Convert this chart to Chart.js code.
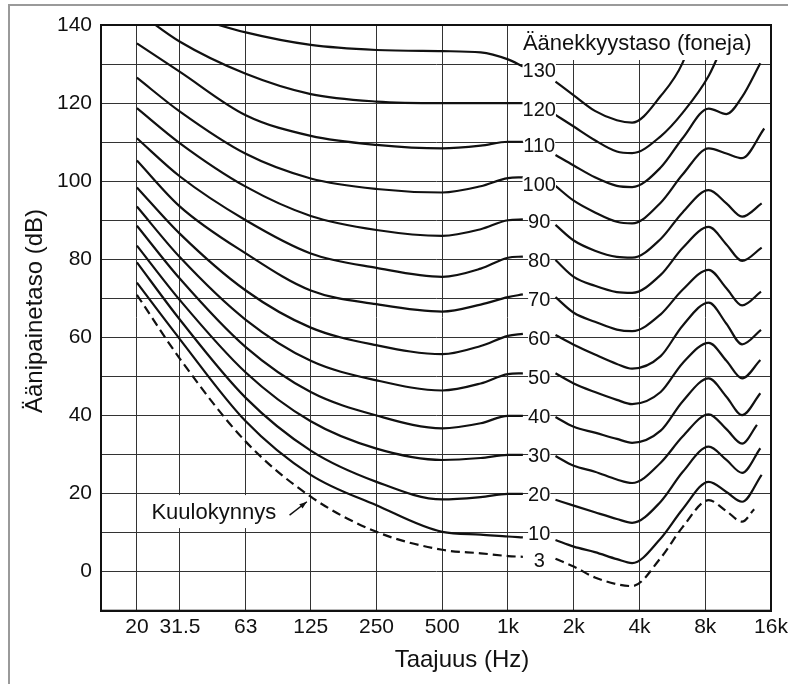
<!DOCTYPE html>
<html lang="fi">
<head>
<meta charset="UTF-8">
<title>Äänekkyyskäyrät</title>
<script src="https://cdn.jsdelivr.net/npm/chart.js"></script>
<style>
  html, body { margin: 0; padding: 0; background: #fff; }
  canvas { display: block; }
</style>
</head>
<body>
<canvas id="chart" width="788" height="684"></canvas>
<script>
// Taajuudet (Hz): käyrän vasen osa (ennen tasolukua) ja oikea osa
const leftFreqs = [20, 31.5, 63, 125, 250, 500, 750, 1000, 1170];
const rightFreqs = [1650, 2000, 2500, 3150, 3700, 5000, 6300, 8300, 10000, 11800];

const phonLevels = [130, 120, 110, 100, 90, 80, 70, 60, 50, 40, 30, 20, 10, 3];
const levelLabels = ['130', '120', '110', '100', '90', '80', '70', '60', '50', '40', '30', '20', '10', '3'];

// äänenpainetaso (dB) kohdissa leftFreqs
const leftLevels = [
    [null, 143.0, 138.1, 134.9, 133.6, 133.3, 133.0, 131.2, 129.4],
    [143.5, 135.7, 127.5, 122.3, 120.4, 120.0, 120.0, 120.0, 120.0],
    [135.3, 128.0, 116.9, 111.6, 109.3, 108.4, 109.1, 110.1, 110.1],
    [126.5, 117.8, 107.0, 100.7, 98.0, 97.1, 98.7, 100.8, 101.0],
    [118.7, 109.7, 98.6, 91.1, 87.5, 86.0, 87.7, 90.0, 90.2],
    [111.0, 101.2, 90.0, 81.5, 77.8, 75.5, 77.6, 80.4, 80.7],
    [105.3, 93.5, 81.5, 72.0, 68.5, 66.6, 68.4, 70.3, 71.0],
    [98.4, 86.5, 72.0, 62.5, 58.0, 55.7, 57.8, 60.4, 60.9],
    [93.5, 80.5, 64.5, 54.0, 49.0, 46.4, 48.2, 50.6, 50.8],
    [88.6, 75.0, 57.5, 46.0, 40.0, 36.7, 38.0, 39.9, 39.9],
    [83.5, 69.5, 51.0, 38.5, 31.5, 28.6, 29.1, 29.9, 29.9],
    [79.2, 64.5, 44.5, 31.0, 23.0, 18.5, 19.1, 19.9, 19.9],
    [74.0, 59.5, 38.5, 24.8, 17.0, 10.2, 9.5, 9.0, 8.8],
    [70.9, 54.5, 33.3, 19.2, 10.2, 5.6, 4.7, 4.0, 3.8]
];

// äänenpainetaso (dB) kohdissa rightFreqs
const rightLevels = [
    [125.5, 122.0, 118.0, 115.6, 115.0, 121.8, 130.3, 150, null, null],
    [117.0, 114.0, 110.5, 107.6, 107.2, 111.5, 117.5, 127.0, 137.0, null],
    [106.7, 104.0, 101.0, 98.8, 98.5, 103.5, 111.0, 118.6, 117.2, 121.6],
    [98.8, 95.0, 92.0, 89.6, 89.2, 94.5, 101.7, 108.4, 107.1, 105.9],
    [88.8, 84.8, 82.2, 80.6, 80.4, 85.2, 92.0, 97.7, 94.3, 90.9],
    [79.8, 75.5, 73.2, 71.6, 71.4, 76.0, 82.9, 88.3, 83.8, 79.6],
    [70.3, 66.3, 64.0, 62.0, 61.6, 65.9, 72.2, 77.3, 72.6, 68.2],
    [60.6, 58.1, 55.6, 53.2, 52.0, 55.2, 63.0, 68.9, 63.5, 58.2],
    [50.8, 48.2, 46.0, 44.0, 42.9, 46.0, 53.4, 58.6, 54.0, 49.5],
    [39.6, 37.1, 35.6, 34.0, 33.0, 36.1, 43.6, 49.5, 44.8, 40.1],
    [29.6, 27.1, 25.6, 23.6, 22.7, 27.9, 34.6, 40.3, 36.5, 32.8],
    [18.4, 16.9, 15.2, 13.5, 12.5, 17.9, 25.5, 32.0, 28.6, 25.3],
    [8.1, 6.4, 5.0, 3.2, 2.2, 8.5, 16.0, 23.0, 20.4, 17.9],
    [3.3, 1.3, -1.5, -3.2, -3.7, 3.5, 11.4, 18.3, 15.5, 12.8]
];

// käyrien loppupisteet oikeassa reunassa
const endFreqs = [null, null, 14300, 14900, 14500, 14500, 14400, 14400, 14300, 14300, 13800, 14300, 14500, 13400];
const endLevels = [null, null, 130.2, 113.5, 94.3, 83.0, 71.7, 61.9, 54.2, 45.7, 37.6, 31.6, 24.8, 16.0];

const xTicks = [20, 31.5, 63, 125, 250, 500, 1000, 2000, 4000, 8000, 16000];
const xTickLabels = ['20', '31.5', '63', '125', '250', '500', '1k', '2k', '4k', '8k', '16k'];
const yGrid = [-10, 0, 10, 20, 30, 40, 50, 60, 70, 80, 90, 100, 110, 120, 130, 140];
const yTickLabels = [0, 20, 40, 60, 80, 100, 120, 140];

const FONT = "'Liberation Sans', Arial, sans-serif";
const INK = '#111';

const datasets = phonLevels.map((p, i) => {
    const pts = leftFreqs.map((f, j) => ({ x: f, y: leftLevels[i][j] }));
    pts.push({ x: 1400, y: null });
    rightFreqs.forEach((f, j) => pts.push({ x: f, y: rightLevels[i][j] }));
    if (endFreqs[i] !== null) pts.push({ x: endFreqs[i], y: endLevels[i] });
    return {
        label: levelLabels[i],
        data: pts,
        borderColor: INK,
        borderWidth: 2.2,
        borderDash: p === 3 ? [9, 5] : [],
        pointRadius: 0,
        fill: false,
        spanGaps: false,
        cubicInterpolationMode: 'monotone'
    };
});

const overlay = {
    id: 'overlay',
    beforeDraw(chart) {
        const c = chart.ctx;
        c.save();
        c.fillStyle = '#fff';
        c.fillRect(0, 0, chart.width, chart.height);
        c.strokeStyle = '#9a9a9a';
        c.lineWidth = 2;
        c.beginPath();
        c.moveTo(9, chart.height);
        c.lineTo(9, 5);
        c.lineTo(chart.width, 5);
        c.stroke();
        c.restore();
    },
    afterDatasetsDraw(chart) {
        const c = chart.ctx;
        const a = chart.chartArea;
        const x = chart.scales.x, y = chart.scales.y;
        c.save();

        // selite oikeassa yläkulmassa
        const boxLeft = x.getPixelForValue(1140);
        c.fillStyle = '#fff';
        c.fillRect(boxLeft, a.top, a.right - boxLeft, 35);
        c.fillStyle = INK;
        c.font = '22px ' + FONT;
        c.textAlign = 'left';
        c.textBaseline = 'alphabetic';
        c.fillText('Äänekkyystaso (foneja)', x.getPixelForValue(1170), a.top + 25);

        // tasoluvut käyrien välissä
        c.font = '20px ' + FONT;
        c.textAlign = 'center';
        c.textBaseline = 'middle';
        const lx = x.getPixelForValue(1390);
        phonLevels.forEach((p, i) => {
            const shift = p >= 120 ? 7 : (p >= 100 ? 4 : 2);
            const ly = y.getPixelForValue(p) + shift;
            const w = c.measureText(levelLabels[i]).width;
            c.fillStyle = '#fff';
            c.fillRect(lx - w / 2, ly - 8, w, 16);
            c.fillStyle = INK;
            c.fillText(levelLabels[i], lx, ly);
        });

        // kuulokynnys + nuoli
        c.font = '22px ' + FONT;
        const kx = x.getPixelForValue(45), ky = y.getPixelForValue(15);
        const kw = c.measureText('Kuulokynnys').width;
        c.fillStyle = '#fff';
        c.fillRect(kx - kw / 2 - 3, ky - 18, kw + 6, 33);
        c.fillStyle = INK;
        c.fillText('Kuulokynnys', kx, ky);

        const x0 = x.getPixelForValue(100), y0 = y.getPixelForValue(14.5);
        const x1 = x.getPixelForValue(120), y1 = y.getPixelForValue(17.9);
        const ang = Math.atan2(y1 - y0, x1 - x0);
        c.strokeStyle = INK;
        c.lineWidth = 1.5;
        c.beginPath();
        c.moveTo(x0, y0);
        c.lineTo(x1, y1);
        c.stroke();
        c.beginPath();
        c.moveTo(x1, y1);
        c.lineTo(x1 - 8 * Math.cos(ang - 0.35), y1 - 8 * Math.sin(ang - 0.35));
        c.lineTo(x1 - 8 * Math.cos(ang + 0.35), y1 - 8 * Math.sin(ang + 0.35));
        c.closePath();
        c.fill();
        c.restore();
    },
    afterDraw(chart) {
        const c = chart.ctx;
        const a = chart.chartArea;
        c.save();
        c.strokeStyle = INK;
        c.lineWidth = 2;
        c.strokeRect(a.left, a.top, a.right - a.left, a.bottom - a.top);

        c.fillStyle = INK;
        c.font = '24px ' + FONT;
        c.textAlign = 'center';
        c.textBaseline = 'middle';
        c.fillText('Taajuus (Hz)', 462, 660);
        c.translate(35, 311);
        c.rotate(-Math.PI / 2);
        c.fillText('Äänipainetaso (dB)', 0, 0);
        c.restore();
    }
};

new Chart(document.getElementById('chart').getContext('2d'), {
    type: 'line',
    data: { datasets: datasets },
    options: {
        responsive: false,
        animation: false,
        devicePixelRatio: 1,
        layout: { padding: { left: 0, right: 17, top: 25, bottom: 0 } },
        plugins: {
            legend: { display: false },
            tooltip: { enabled: false },
            title: { display: false }
        },
        scales: {
            x: {
                type: 'logarithmic',
                min: 13.7,
                max: 16000,
                bounds: 'data',
                afterBuildTicks: s => { s.ticks = xTicks.map(v => ({ value: v })); },
                afterFit: s => { s.height = 73.3; s.paddingLeft = 0; s.paddingRight = 0; },
                ticks: {
                    autoSkip: false,
                    maxRotation: 0,
                    padding: 4,
                    color: INK,
                    font: { family: FONT, size: 21 },
                    callback: (v, i) => xTickLabels[i]
                },
                grid: { color: '#333', lineWidth: 1, drawTicks: false },
                border: { color: INK, width: 2 }
            },
            y: {
                type: 'linear',
                min: -10,
                max: 140,
                afterBuildTicks: s => { s.ticks = yGrid.map(v => ({ value: v })); },
                afterFit: s => { s.width = 101; s.paddingTop = 0; s.paddingBottom = 0; },
                ticks: {
                    padding: 9,
                    color: INK,
                    font: { family: FONT, size: 21 },
                    callback: v => yTickLabels.includes(v) ? String(v) : ''
                },
                grid: { color: '#333', lineWidth: 1, drawTicks: false },
                border: { color: INK, width: 2 }
            }
        }
    },
    plugins: [overlay]
});
</script>
</body>
</html>
